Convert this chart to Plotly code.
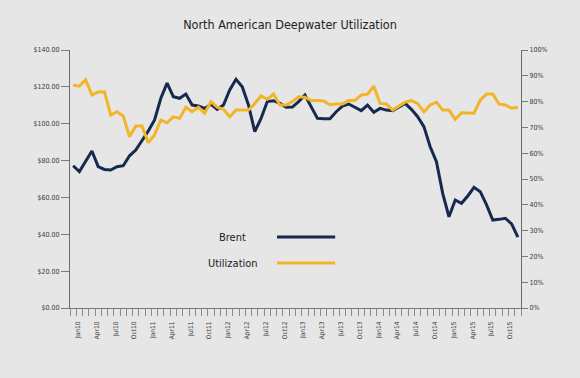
import plotly.graph_objects as go

months = []
for yr in range(10, 16):
    for m in ["Jan", "Feb", "Mar", "Apr", "May", "Jun", "Jul", "Aug", "Sep", "Oct", "Nov", "Dec"]:
        months.append(f"{m}{yr}")

brent = [77.2, 74.0, 79.6, 85.2, 76.7, 75.2, 74.9, 76.7, 77.2, 82.6, 85.7, 90.8,
         96.0, 102.0, 113.8, 122.0, 114.7, 113.8, 116.1, 110.1, 109.6, 108.3, 110.5, 107.8,
         110.1, 118.3, 124.1, 120.0, 110.1, 95.7, 102.9, 112.0, 112.5, 111.1, 108.9, 109.0,
         112.0, 115.6, 109.2, 102.9, 102.7, 102.7, 106.5, 109.6, 110.7, 108.9, 107.1, 110.1,
         106.2, 108.3, 107.4, 107.1, 108.9, 111.0, 107.8, 103.8, 98.4, 87.5, 79.4, 62.2,
         49.5, 58.6, 56.8, 60.8, 65.5, 63.1, 55.9, 47.7, 48.1, 48.7, 45.6, 38.4]

utilization = [86.4, 86.0, 88.4, 82.6, 83.7, 83.8, 74.8, 76.1, 74.4, 66.4, 70.5, 70.5,
               64.1, 67.1, 72.9, 71.8, 74.1, 73.5, 77.8, 76.1, 77.8, 75.5, 80.0, 77.8,
               77.0, 74.1, 76.7, 76.7, 76.7, 79.3, 82.2, 80.9, 82.9, 78.7, 78.7, 80.0,
               81.9, 81.7, 80.4, 80.4, 80.2, 78.8, 79.1, 79.1, 80.4, 80.4, 82.6, 82.9,
               86.0, 79.3, 79.1, 76.7, 78.3, 79.8, 80.4, 79.3, 76.0, 78.7, 79.8, 76.7,
               76.7, 73.1, 75.7, 75.5, 75.5, 80.6, 82.9, 82.9, 79.0, 78.7, 77.4, 77.8]

left_ticks = [0, 20, 40, 60, 80, 100, 120, 140]
left_labels = [f"${v:.2f}" for v in left_ticks]
right_ticks = list(range(0, 101, 10))
right_labels = [f"{v}%" for v in right_ticks]

label_idx = list(range(0, 72, 3))
label_text = [months[i] for i in label_idx]

NAVY = "#162a50"
GOLD = "#f2b52a"
FONT = "Liberation Sans Narrow, DejaVu Sans Condensed, Arial Narrow, Arial, sans-serif"

x = list(range(len(months)))

fig = go.Figure()
fig.add_trace(go.Scatter(x=x, y=brent, mode="lines", name="Brent",
                         line=dict(color=NAVY, width=3), yaxis="y"))
fig.add_trace(go.Scatter(x=x, y=utilization, mode="lines", name="Utilization",
                         line=dict(color=GOLD, width=3), yaxis="y2"))

fig.update_layout(
    width=580, height=378,
    margin=dict(l=70, r=59, t=50, b=70),
    paper_bgcolor="#e6e6e6", plot_bgcolor="#e6e6e6",
    showlegend=False,
    font=dict(family=FONT, color="#3a3a3a", size=7),
    title=dict(text="North American Deepwater Utilization", x=0.5, xanchor="center",
               y=1 - 25 / 378, yanchor="middle",
               font=dict(family=FONT, size=12.5, color="#222222")),
    xaxis=dict(
        range=[-0.5, 71.5], showgrid=False, zeroline=False, automargin=False,
        showline=True, linecolor="#7a7a7a", linewidth=1,
        tickmode="array", tickvals=[i + 0.75 for i in label_idx], ticktext=label_text,
        tickangle=-90, ticks="outside", ticklen=10, tickcolor="rgba(0,0,0,0)",
        tickfont=dict(family=FONT, size=6.5, color="#3a3a3a"),
        minor=dict(tickmode="array", tickvals=[i - 0.5 for i in range(73)],
                   ticks="outside", ticklen=7, tickcolor="#8a8a8a", tickwidth=1, showgrid=False),
    ),
    yaxis=dict(
        range=[0, 140], tickmode="array", tickvals=left_ticks, ticktext=left_labels,
        showgrid=False, zeroline=False, showline=True, linecolor="#6a6a6a", linewidth=1,
        ticks="outside", ticklen=8, tickcolor="#7a7a7a", automargin=False,
        tickfont=dict(family=FONT, size=7, color="#3a3a3a"),
    ),
    yaxis2=dict(
        range=[0, 100], overlaying="y", side="right", tickmode="array",
        tickvals=right_ticks, ticktext=right_labels, automargin=False,
        showgrid=False, zeroline=False, showline=True, linecolor="#6a6a6a", linewidth=1,
        ticks="outside", ticklen=6, tickcolor="#7a7a7a",
        tickfont=dict(family=FONT, size=7, color="#3a3a3a"),
    ),
)

# custom legend: text left, line sample right
legend_items = [("Brent", NAVY, 0.275), ("Utilization", GOLD, 0.174)]
for name, col, yy in legend_items:
    fig.add_annotation(text=name, xref="paper", yref="paper", x=0.361, y=yy,
                       showarrow=False, xanchor="center", yanchor="middle",
                       font=dict(family=FONT, size=11, color="#222222"))
    fig.add_shape(type="line", xref="paper", yref="paper", x0=0.459, x1=0.588,
                  y0=yy, y1=yy, line=dict(color=col, width=3))

fig.write_html("out.html", config={"displayModeBar": False},
               post_script="document.body.style.margin='0px';document.body.style.padding='0px';")
